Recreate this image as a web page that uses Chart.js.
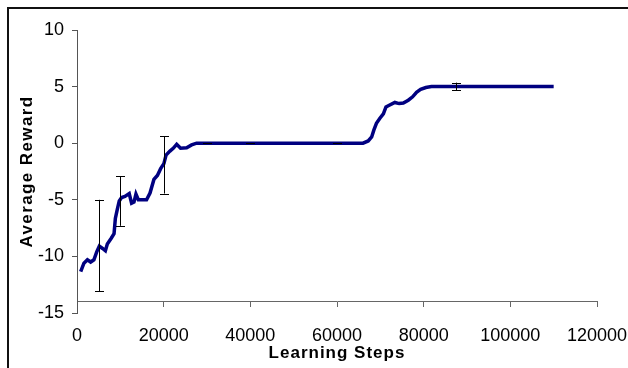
<!DOCTYPE html>
<html><head><meta charset="utf-8">
<script src="https://cdn.jsdelivr.net/npm/chart.js@4"></script>
<style>
html,body{margin:0;padding:0;background:#fff;}
#wrap{position:relative;width:628px;height:368px;overflow:hidden;background:#fff;}
#frame{position:absolute;left:7px;top:7px;width:700px;height:400px;border-top:2px solid #111;border-left:2px solid #111;}
canvas{position:absolute;left:0;top:0;}
</style></head><body>
<div id="wrap"><div id="frame"></div><canvas id="c" width="628" height="368"></canvas></div>
<script>
const steps = [850, 1600, 2400, 3150, 3900, 4550, 5150, 5900, 6550, 7000, 7900, 8550, 8850, 9300, 9750, 10300, 11050, 12050, 12600, 13150, 13600, 14150, 16050, 16850, 17750, 18550, 19300, 20050, 20550, 21450, 22200, 23000, 23900, 25300, 26450, 27600, 66000, 67200, 68000, 68500, 69100, 69900, 70700, 71300, 72050, 73350, 74350, 75300, 76450, 77450, 78350, 79300, 80500, 81800, 110000];
const reward = [-11.35, -10.6, -10.3, -10.5, -10.3, -9.6, -9.1, -9.3, -9.5, -8.9, -8.4, -8.0, -6.65, -5.85, -5.1, -4.8, -4.7, -4.45, -5.3, -5.2, -4.5, -5.0, -5.0, -4.4, -3.2, -2.85, -2.25, -1.8, -1.05, -0.7, -0.45, -0.1, -0.45, -0.4, -0.15, 0, 0, 0.2, 0.55, 1.15, 1.75, 2.2, 2.6, 3.2, 3.35, 3.6, 3.5, 3.55, 3.8, 4.1, 4.5, 4.75, 4.92, 5.0, 5.0];
const errSteps = [5000, 10000, 20000, 30000, 40000, 60000, 87500];
const errLow = [-13.1, -7.3, -4.45, 0, 0, 0, 4.7];
const errHigh = [-5.0, -2.9, 0.6, 0, 0, 0, 5.35];
const xTickStep = 20000;
const yTickStep = 5;

const errorBars = {
  id: 'errorBars',
  afterDatasetsDraw(chart) {
    const ctx = chart.ctx, xs = chart.scales.x, ys = chart.scales.y;
    ctx.save();
    ctx.strokeStyle = '#000';
    ctx.lineWidth = 1;
    errSteps.forEach((s, i) => {
      const px = Math.round(xs.getPixelForValue(s)) + 0.5;
      const lo = ys.getPixelForValue(errLow[i]);
      const hi = ys.getPixelForValue(errHigh[i]);
      ctx.beginPath();
      ctx.moveTo(px, lo); ctx.lineTo(px, hi);
      ctx.moveTo(px - 4.5, Math.round(lo) + 0.5); ctx.lineTo(px + 4.5, Math.round(lo) + 0.5);
      ctx.moveTo(px - 4.5, Math.round(hi) + 0.5); ctx.lineTo(px + 4.5, Math.round(hi) + 0.5);
      ctx.stroke();
    });
    ctx.restore();
  }
};

const spacedTitles = {
  id: 'spacedTitles',
  afterLayout(chart) {
    [['x2', '1px'], ['y', '1.4px']].forEach(([id, sp]) => {
      const s = chart.scales[id];
      if (!s || s._spaced) return;
      const orig = s.drawTitle;
      s.drawTitle = function () {
        const ctx = this.ctx;
        ctx.save();
        ctx.letterSpacing = sp;
        orig.call(this);
        ctx.restore();
      };
      s._spaced = true;
    });
  }
};

const tickFont = { family: 'Liberation Sans, Arial, sans-serif', size: 18 };
const titleFont = { family: 'Liberation Sans, Arial, sans-serif', size: 17, weight: 'bold' };

new Chart(document.getElementById('c'), {
  type: 'line',
  data: {
    datasets: [{
      data: steps.map((s, i) => ({ x: s, y: reward[i] })),
      borderColor: '#000080',
      borderWidth: 3.5,
      pointRadius: 0,
      fill: false,
      tension: 0
    }]
  },
  options: {
    responsive: false,
    animation: false,
    devicePixelRatio: 1,
    layout: { padding: { left: 8, top: 30, right: 31, bottom: 0 } },
    plugins: { legend: { display: false }, tooltip: { enabled: false } },
    scales: {
      x: {
        type: 'linear', min: 0, max: 120000,
        position: { y: -14 },
        ticks: { display: false, stepSize: xTickStep },
        grid: { drawOnChartArea: false, tickLength: 5, color: '#666' },
        border: { color: '#666', width: 1 },
        afterFit(s) { s.paddingLeft = 0; s.paddingRight = 0; }
      },
      x2: {
        type: 'linear', min: 0, max: 120000,
        position: 'bottom',
        ticks: { stepSize: xTickStep, font: tickFont, color: '#000', padding: 12, maxRotation: 0, autoSkip: false, callback: v => String(v) },
        grid: { display: false, drawTicks: false },
        border: { display: false },
        title: { display: true, text: 'Learning Steps', font: titleFont, color: '#000', padding: { top: 0, bottom: 4 } },
        afterFit(s) { s.height = 55; s.paddingLeft = 0; s.paddingRight = 0; }
      },
      y: {
        min: -15, max: 10,
        ticks: { stepSize: yTickStep, font: tickFont, color: '#000', padding: 8, callback: v => String(v) },
        grid: { drawOnChartArea: false, tickLength: 5, color: '#555' },
        border: { color: '#555', width: 1 },
        title: { display: true, text: 'Average Reward', font: titleFont, color: '#000', padding: { top: 9, bottom: 0 } },
        afterFit(s) { s.width = 69; }
      }
    }
  },
  plugins: [errorBars, spacedTitles]
});
</script>
</body></html>
